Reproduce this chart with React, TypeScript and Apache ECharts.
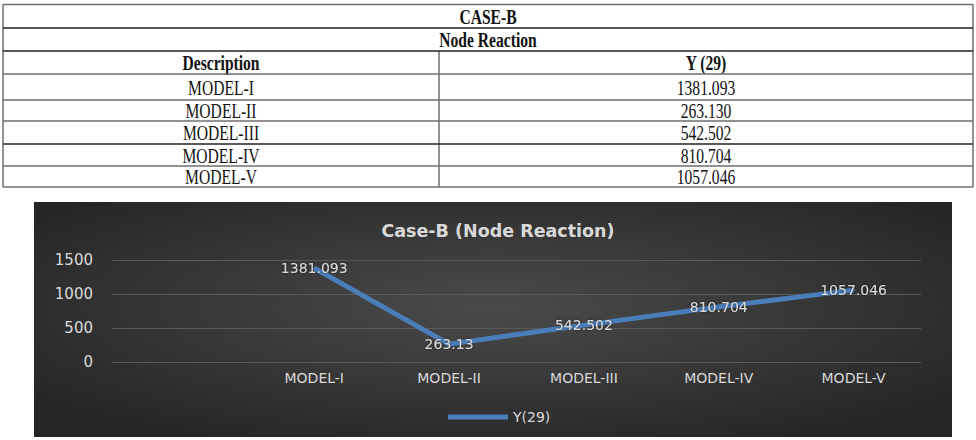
import React, { useEffect, useRef } from "react";
import * as echarts from "echarts";

const tableTitle = "CASE-B";
const tableSubtitle = "Node Reaction";
const headerLabels = ["Description", "Y (29)"];
const categories = ["MODEL-I", "MODEL-II", "MODEL-III", "MODEL-IV", "MODEL-V"];
const tableValues = ["1381.093", "263.130", "542.502", "810.704", "1057.046"];
const seriesValues = [1381.093, 263.13, 542.502, 810.704, 1057.046];
const seriesName = "Y(29)";
const chartTitle = "Case-B (Node Reaction)";
const yTicks = [0, 500, 1000, 1500];

export default function App() {
  const ref = useRef<HTMLDivElement>(null);
  useEffect(() => {
    if (!ref.current) return;
    const chart = echarts.init(ref.current, null, { renderer: "svg" });

    const L = 3, R = 973, DIV = 439;
    const rowLines = [4.5, 28, 51, 74, 100, 121, 144, 166, 187];
    const darkLines = new Set([28, 51, 144]);
    const graphics: any[] = [];
    rowLines.forEach((y) => {
      graphics.push({
        type: "line",
        shape: { x1: L, y1: y, x2: R, y2: y },
        style: { stroke: darkLines.has(y) ? "#222" : "#6e6e6e", lineWidth: 1.5 },
        z: 1,
      });
    });
    graphics.push({ type: "line", shape: { x1: L, y1: 4.5, x2: L, y2: 187 }, style: { stroke: "#6e6e6e", lineWidth: 1.5 } });
    graphics.push({ type: "line", shape: { x1: R, y1: 4.5, x2: R, y2: 187 }, style: { stroke: "#6e6e6e", lineWidth: 1.5 } });
    graphics.push({ type: "line", shape: { x1: DIV, y1: 51, x2: DIV, y2: 187 }, style: { stroke: "#6e6e6e", lineWidth: 1.5 } });

    const txt = (s: string, x: number, y: number, bold: boolean) => ({
      type: "text",
      x,
      y,
      scaleX: 0.78,
      style: {
        text: s,
        fill: "#111",
        font: `${bold ? "bold " : ""}20px "Liberation Serif"`,
        textAlign: "center",
        textVerticalAlign: "middle",
      },
    });
    const midAll = (L + R) / 2;
    const midLeft = (L + DIV) / 2;
    const midRight = (DIV + R) / 2;
    graphics.push(txt(tableTitle, midAll, 17, true));
    graphics.push(txt(tableSubtitle, midAll, 40, true));
    graphics.push(txt(headerLabels[0], midLeft, 63, true));
    graphics.push(txt(headerLabels[1], midRight, 63, true));
    categories.forEach((c, i) => {
      const y = (rowLines[i + 3] + rowLines[i + 4]) / 2 + 1;
      graphics.push(txt(c, midLeft, y, false));
      graphics.push(txt(tableValues[i], midRight, y, false));
    });

    graphics.push({
      type: "rect",
      z: -10,
      shape: { x: 34, y: 202, width: 918, height: 235 },
      style: {
        fill: new echarts.graphic.RadialGradient(0.5, 0.45, 0.65, [
          { offset: 0, color: "#4a4a4a" },
          { offset: 1, color: "#252525" },
        ]),
      },
    });

    const labelColor = "#d9d9d9";
    const lineColor = "#4a7ebb";
    chart.setOption({
      animation: false,
      title: {
        text: chartTitle,
        left: 493,
        top: 217,
        textAlign: "center",
        textStyle: { color: labelColor, fontSize: 17.5, fontWeight: "bold", fontFamily: "DejaVu Sans" },
      },
      graphic: graphics,
      legend: {
        data: [seriesName],
        left: 443,
        top: 405,
        icon: "rect",
        itemWidth: 60,
        itemHeight: 5,
        itemGap: 4,
        itemStyle: { color: lineColor, opacity: 1 },
        textStyle: { color: labelColor, fontSize: 14, fontFamily: "DejaVu Sans" },
      },
      grid: { left: 112, right: 55, top: 260, bottom: 78 },
      xAxis: {
        type: "category",
        data: ["", ...categories],
        axisLine: { show: false },
        axisTick: { show: false },
        axisLabel: { color: labelColor, fontSize: 14, fontFamily: "DejaVu Sans", margin: 9 },
      },
      yAxis: {
        type: "value",
        min: yTicks[0],
        max: yTicks[yTicks.length - 1],
        interval: 500,
        axisLine: { show: false },
        axisTick: { show: false },
        splitLine: { lineStyle: { color: "#5a5a5a", width: 1 } },
        axisLabel: {
          color: labelColor,
          fontSize: 15,
          fontFamily: "DejaVu Sans",
          margin: 19,
          formatter: (v: number) => String(v),
        },
      },
      series: [
        {
          name: seriesName,
          type: "line",
          data: ["-", ...seriesValues],
          symbol: "circle",
          symbolSize: 2,
          showSymbol: true,
          lineStyle: { color: lineColor, width: 5 },
          itemStyle: { color: lineColor },
          label: {
            show: true,
            position: "inside",
            color: labelColor,
            fontSize: 14,
            fontFamily: "DejaVu Sans",
            textShadowColor: "rgba(0,0,0,0.6)",
            textShadowBlur: 2,
          },
        },
      ],
    });
    return () => chart.dispose();
  }, []);
  return <div ref={ref} style={{ position: "fixed", left: 0, top: 0, width: 976, height: 440, background: "#fff" }} />;
}
